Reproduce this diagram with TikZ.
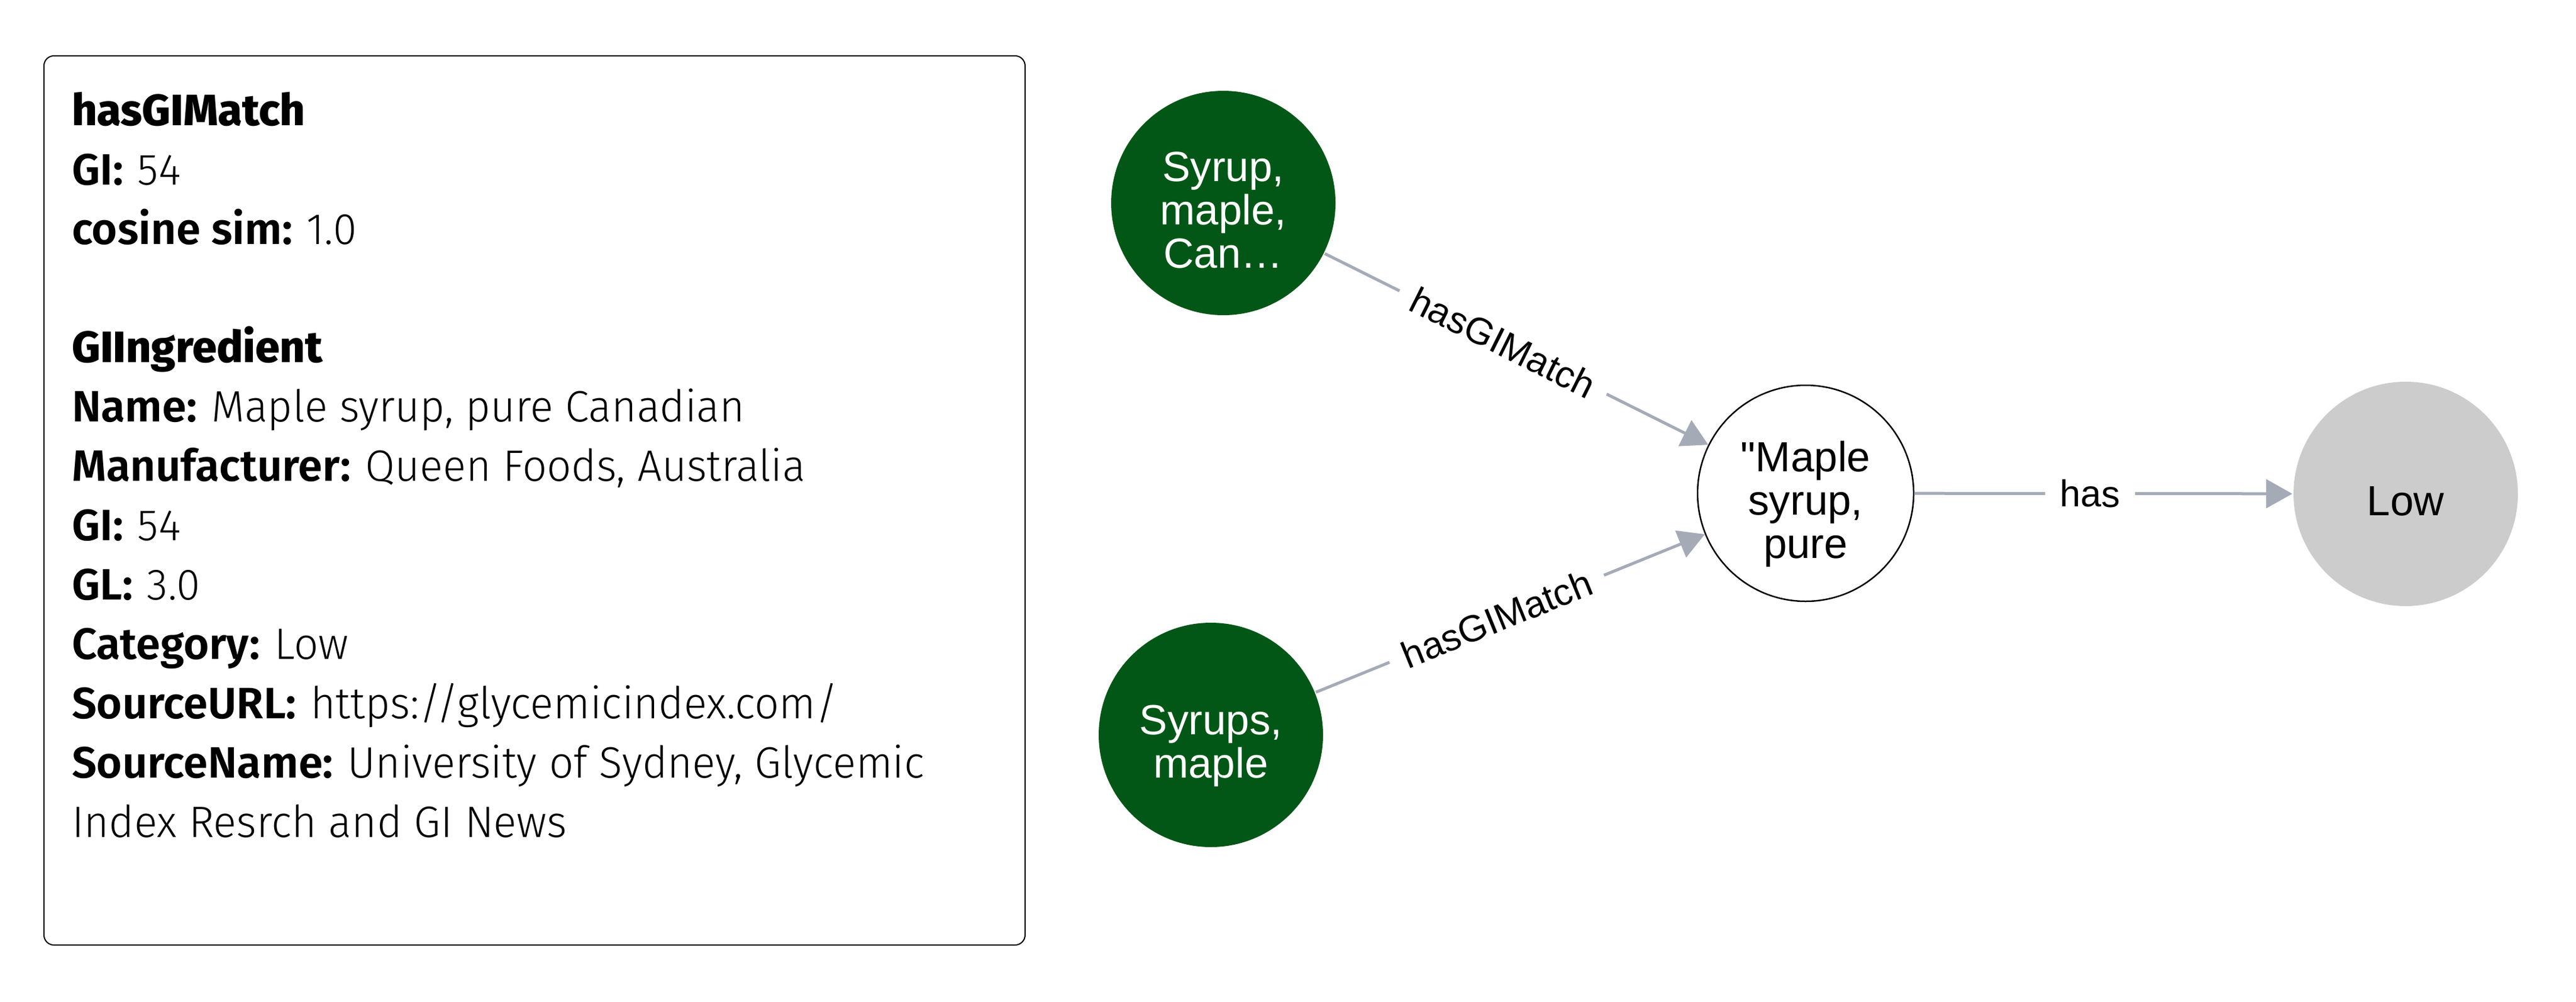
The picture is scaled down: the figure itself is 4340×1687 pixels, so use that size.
\documentclass[tikz,border=0pt]{standalone}
\usepackage{fontspec}
\usetikzlibrary{arrows.meta}
\newfontfamily\fnode{Liberation Sans}
\newfontfamily\fhead{Fira Sans ExtraBold}
\newfontfamily\fkey{Fira Sans SemiBold}
\newfontfamily\fval{Fira Sans Light}[FakeStretch=0.98]
\definecolor{nodegreen}{RGB}{3,87,22}
\definecolor{lowgray}{RGB}{204,204,204}
\definecolor{edgegray}{RGB}{165,171,182}
\newcommand{\nstrut}{\rule[-2pt]{0pt}{11.2pt}}
\newcommand{\bstrut}{\rule{0pt}{10pt}}
\newcommand{\kv}[2]{{\fkey #1}\hspace{2.4pt}{\fval #2}}
\begin{document}
\begin{tikzpicture}[x=0.1pt,y=-0.1pt,
  base/.style={circle, inner sep=0pt, align=center,
    font={\fnode\fontsize{7.1pt}{7.3pt}\selectfont\lineskiplimit=-50pt}},
  gnode/.style={base, minimum size=37.8pt, fill=nodegreen, text=white},
  wnode/.style={base, minimum size=36.4pt, fill=white, draw=black, line width=0.25pt, text=black},
  lnode/.style={base, minimum size=37.8pt, fill=lowgray, text=black},
  edge/.style={draw=edgegray, line width=0.5pt, -{Triangle[length=4.4pt,width=4.8pt]}},
  elabel/.style={fill=white, inner xsep=2.5pt, inner ysep=0.5pt, sloped, pos=0.465,
    font={\fnode\fontsize{6.3pt}{7pt}\selectfont}, text=black},
  infotext/.style={anchor=north west, inner sep=0pt, align=left,
    font={\fontsize{7.4pt}{10pt}\selectfont\lineskiplimit=-50pt}}
]
\useasboundingbox (0,0) rectangle (4340,1687);
% info panel
\draw[rounded corners=1.7pt, line width=0.2pt] (74,94) rectangle (1727,1592);
\node[infotext] (info) at (119,109) {%
  {\fhead hasGIMatch}\bstrut\\
  \kv{GI:}{54}\\
  \kv{cosine sim:}{1.0}\\[10pt]
  {\fhead GIIngredient}\\
  \kv{Name:}{Maple syrup, pure Canadian}\\
  \kv{Manufacturer:}{Queen Foods, Australia}\\
  \kv{GI:}{54}\\
  \kv{GL:}{3.0}\\
  \kv{Category:}{Low}\\
  \kv{SourceURL:}{https://glycemicindex.com/}\\
  \kv{SourceName:}{University of Sydney, Glycemic}\\
  {\fval Index Resrch and GI News}};
% graph nodes
\node[gnode] (syrup) at (2061,342) {\nstrut Syrup,\\\nstrut maple,\\\nstrut Can…};
\node[gnode] (syrups) at (2040,1238) {\nstrut Syrups,\\\nstrut maple};
\node[wnode] (maple) at (3042,831) {\nstrut "Maple\\\nstrut syrup,\\\nstrut pure};
\node[lnode] (low) at (4053,832) {\nstrut Low};
% edges
\draw[edge] (syrup) -- node[elabel] (l1) {hasGIMatch} (maple);
\draw[edge] (syrups) -- node[elabel] (l2) {hasGIMatch} (maple);
\draw[edge] (maple) -- node[elabel] (l3) {has} (low);
\end{tikzpicture}
\end{document}
